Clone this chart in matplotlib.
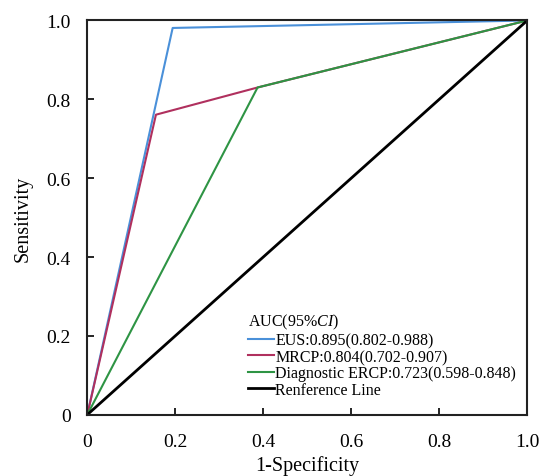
import matplotlib
matplotlib.use("Agg")
import matplotlib.pyplot as plt

# ROC points (1-specificity, sensitivity)
eus_fpr = [0.0, 0.194, 1.0]
eus_tpr = [0.0, 0.981, 1.0]
mrcp_fpr = [0.0, 0.156, 0.387, 1.0]
mrcp_tpr = [0.0, 0.761, 0.830, 1.0]
ercp_fpr = [0.0, 0.387, 1.0]
ercp_tpr = [0.0, 0.830, 1.0]
ref_line = [0.0, 1.0]

labels = [
    "EUS:0.895(0.802-0.988)",
    "MRCP:0.804(0.702-0.907)",
    "Diagnostic ERCP:0.723(0.598-0.848)",
    "Renference Line",
]
ticks = [0, 0.2, 0.4, 0.6, 0.8, 1.0]
tick_labels = ["0", "0.2", "0.4", "0.6", "0.8", "1.0"]

plt.rcParams["font.family"] = ["Liberation Serif", "DejaVu Serif"]
plt.rcParams["mathtext.fontset"] = "custom"
plt.rcParams["mathtext.it"] = "Liberation Serif:italic"
plt.rcParams["mathtext.rm"] = "Liberation Serif"

fig = plt.figure(figsize=(5.43, 4.77), dpi=100)
ax = fig.add_axes([0.1608, 0.1285, 0.8102, 0.8265])

ax.plot(eus_fpr, eus_tpr, color="#4a90d9", lw=1.5, label=labels[0])
ax.plot(mrcp_fpr, mrcp_tpr, color="#b0305e", lw=1.5, label=labels[1])
ax.plot(ercp_fpr, ercp_tpr, color="#2e9444", lw=1.5, label=labels[2])
ax.plot(ref_line, ref_line, color="black", lw=2.0, label=labels[3])

ax.set_xlim(0, 1)
ax.set_ylim(0, 1)
ax.set_xticks(ticks)
ax.set_xticklabels(tick_labels)
ax.set_yticks(ticks)
ax.set_yticklabels(tick_labels)
ax.tick_params(direction="in", length=5, width=1.2, labelsize=14, colors="black")
ax.tick_params(axis="x", pad=13)
ax.tick_params(axis="y", pad=12)
for s in ax.spines.values():
    s.set_linewidth(1.5)
    s.set_color("#222222")

ax.set_xlabel("1-Specificity", fontsize=14.5, labelpad=4)
ax.set_ylabel("Sensitivity", fontsize=14.5, labelpad=10)

leg = ax.legend(loc="lower right", bbox_to_anchor=(1.0, 0.015), frameon=False,
                title=r"AUC(95%$\it{CI}$)", fontsize=11.5, title_fontsize=11.5,
                handlelength=1.6, handletextpad=0.1, labelspacing=0.02,
                borderaxespad=0.4, borderpad=0.3)
leg._legend_box.align = "left"
leg._legend_box.sep = 1

fig.savefig("out.png", dpi=100)
